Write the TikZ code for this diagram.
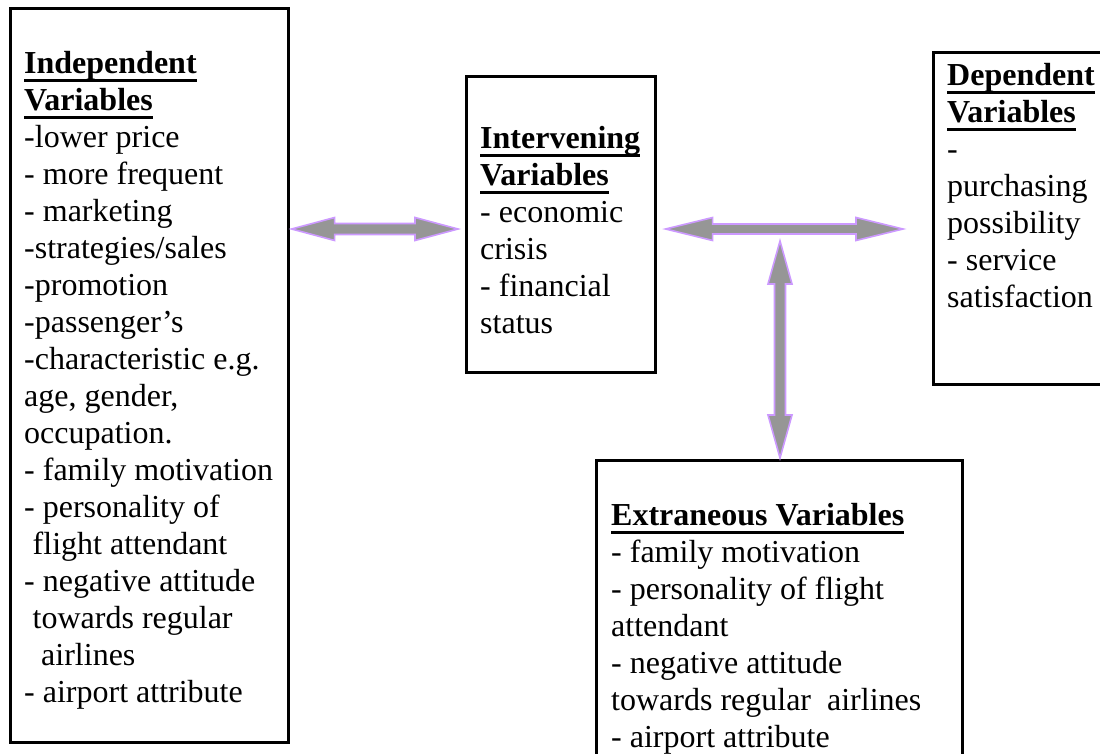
\documentclass[tikz,border=0pt]{standalone}
\usepackage{fontspec}
\setmainfont{Liberation Serif}
\usetikzlibrary{calc}
\definecolor{arrfill}{RGB}{150,150,150}
\definecolor{arrline}{RGB}{204,153,255}
\newcommand\ulbf[1]{\leavevmode\setbox0=\hbox{\bfseries #1}\rlap{\rule[-8.5pt]{\wd0}{3pt}}\box0}
\newcommand\txt[1]{\fontsize{32}{37}\selectfont\parbox[t]{420pt}{\raggedright\fontsize{32}{37}\selectfont #1}}
\newcommand\indsp{\hspace*{8.5pt}}
\tikzset{
  box/.style={draw=black, line width=2.6pt, rectangle, inner sep=0pt, anchor=north west},
  labeltext/.style={anchor=base west, inner sep=0pt},
  bigarr/.style={fill=arrfill, draw=arrline, line width=1.6pt, line join=miter}
}
% horizontal double arrow between #1 (left tip) and #2 (right tip); #3 head length, #4 half head, #5 half shaft
\newcommand\harrow[5]{%
  \draw[bigarr] (#1) -- ($(#1)+(#3,-#4)$) -- ($(#1)+(#3,-#5)$) -- ($(#2)+(-#3,-#5)$) -- ($(#2)+(-#3,-#4)$) -- (#2)
    -- ($(#2)+(-#3,#4)$) -- ($(#2)+(-#3,#5)$) -- ($(#1)+(#3,#5)$) -- ($(#1)+(#3,#4)$) -- cycle;}
\newcommand\varrow[5]{%
  \draw[bigarr] (#1) -- ($(#1)+(-#4,#3)$) -- ($(#1)+(-#5,#3)$) -- ($(#2)+(-#5,-#3)$) -- ($(#2)+(-#4,-#3)$) -- (#2)
    -- ($(#2)+(#4,-#3)$) -- ($(#2)+(#5,-#3)$) -- ($(#1)+(#5,#3)$) -- ($(#1)+(#4,#3)$) -- cycle;}
\begin{document}
\begin{tikzpicture}[x=1pt, y=-1pt]
\useasboundingbox (0,0) rectangle (1100,753);
\clip (0,0) rectangle (1100,753);
\fill[white] (0,0) rectangle (1100,753);

% boxes
\node[box, minimum width=278pt, minimum height=734pt] (indep) at (9,7) {};
\node[box, minimum width=189pt, minimum height=296pt] (interv) at (465,75) {};
\node[box, minimum width=220pt, minimum height=332pt] (dep) at (932,51) {};
\node[box, minimum width=366pt, minimum height=330pt] (extr) at (595,459) {};

% texts
\node[labeltext] (indeptxt) at (24,73) {\txt{\ulbf{Independent}\\ \ulbf{Variables}\\
-lower price\\ - more frequent\\ - marketing\\ -strategies/sales\\ -promotion\\ -passenger’s\\
-characteristic e.g.\\ age, gender,\\ occupation.\\ - family motivation\\ - personality of\\
\indsp flight attendant\\ - negative attitude\\ \indsp towards regular\\ \indsp\indsp airlines\\ - airport attribute}};

\node[labeltext] (intervtxt) at (480,148) {\txt{\ulbf{Intervening}\\ \ulbf{Variables}\\
- economic\\ crisis\\ - financial\\ status}};

\node[labeltext] (deptxt) at (947,85) {\txt{\ulbf{Dependent}\\ \ulbf{Variables}\\
-\\ purchasing\\ possibility\\ - service\\ satisfaction}};

\node[labeltext] (extrtxt) at (611,525) {\txt{\ulbf{Extraneous Variables}\\
- family motivation\\ - personality of flight\\ attendant\\ - negative attitude\\
towards regular\ \ airlines\\ - airport attribute}};

% arrow tips
\coordinate (a1) at ($(indep.east |- 0,229)+(2,0)$);
\coordinate (a2) at ($(interv.west |- 0,229)+(-7,0)$);
\coordinate (b1) at ($(interv.east |- 0,229)+(9,0)$);
\coordinate (b2) at ($(dep.west |- 0,229)+(-29,0)$);
\coordinate (c1) at (780,241);
\coordinate (c2) at ($(extr.north -| 780,0)+(0,-1)$);

\harrow{a1}{a2}{43}{11.5}{5.5}
\harrow{b1}{b2}{47}{11.5}{5}
\varrow{c1}{c2}{43}{12}{5.5}
\end{tikzpicture}
\end{document}
